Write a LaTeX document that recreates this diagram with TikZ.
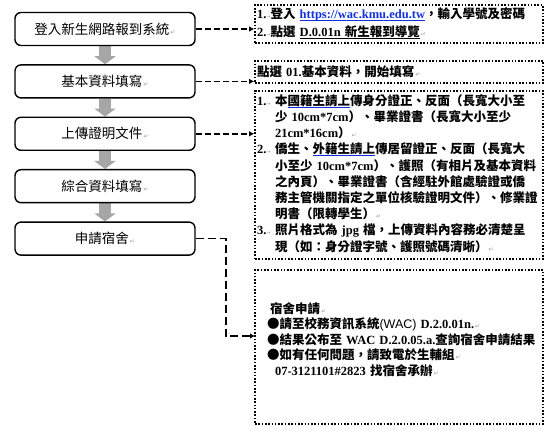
\documentclass[tikz,border=0pt]{standalone}
\usepackage{fontspec}
\setmainfont{Noto Sans CJK TC}
\newfontfamily\enfont{Liberation Serif}
\newfontfamily\sansfont{Liberation Sans}
\newfontfamily\markfont{DejaVu Sans}
\usetikzlibrary{arrows.meta,positioning,backgrounds}
\definecolor{flowGrey}{HTML}{A6A6A6}
\definecolor{linkBlue}{HTML}{1030E0}
\definecolor{markGrey}{HTML}{9A9A9A}
\newcommand\en[1]{{\enfont #1}}
\newcommand\ret{{\markfont\mdseries\fontsize{6}{6}\selectfont\textcolor{markGrey}{\,↵}}}
\newcommand\tabm{{\markfont\mdseries\fontsize{5}{5}\selectfont\textcolor{markGrey}{→}}}
\newcommand\ulc[2]{\setbox0\hbox{#2}\rlap{\textcolor{#1}{\rule[-2.2pt]{\wd0}{0.7pt}}}\box0}
\tikzset{
  flowbox/.style  = {draw, line width=1.4pt, rounded corners=6pt, minimum width=180pt,
                     minimum height=33pt, inner sep=0pt, font=\fontsize{13.5}{16}\selectfont},
  notebox/.style  = {draw, line width=1.6pt, dash pattern=on 1.6pt off 1.7pt,
                     inner xsep=2pt, inner ysep=0pt, text width=284pt, align=left,
                     font=\bfseries\fontsize{12.5}{16.2}\selectfont},
  noteline/.style = {draw, line width=1.7pt, dash pattern=on 6pt off 3pt,
                     -{Latex[length=5pt,width=5.5pt]}},
  flowarrow/.style= {draw=flowGrey, line width=12pt, -{Triangle[width=21pt,length=8pt]}},
}
\begin{document}
\begin{tikzpicture}[x=1pt, y=-1pt]
  \useasboundingbox (0,0) rectangle (553,435);
  % steps on the left
  \node[flowbox] (login) at (105,29) {登入新生網路報到系統\ret};
  \node[flowbox, below=18pt of login] (basic) {基本資料填寫\ret};
  \node[flowbox, below=18pt of basic] (upload) {上傳證明文件\ret};
  \node[flowbox, below=18pt of upload] (summary) {綜合資料填寫\ret};
  \node[flowbox, below=18pt of summary] (apply) {申請宿舍\ret};
  \begin{scope}[on background layer]
    \fill[white] (0,0) rectangle (553,435);
    \foreach \a/\b in {login/basic, basic/upload, upload/summary, summary/apply}
      \draw[flowarrow] (\a.south) -- (\b.north);
  \end{scope}
  % notes on the right
  \node[notebox, minimum height=38pt] (rb1) at (399,24) {%
    \begin{tabular}{@{}l@{}}
      \en{1.}\tabm 登入 \ulc{linkBlue}{\textcolor{linkBlue}{\en{https://wac.kmu.edu.tw}}}，輸入學號及密碼\\[1.8pt]
      \en{2.}\tabm 點選 \ulc{black}{\en{D.0.01n} 新生報到導覽}\ret
    \end{tabular}};
  \node[notebox, minimum height=22pt] (rb2) at (399,72) {點選 \en{01.}基本資料，開始填寫\ret};
  \node[notebox, minimum height=168pt] (rb3) at (399,175) {%
    \begin{tabular}{@{}p{18pt}@{}l@{}}
      \en{1.}\tabm & 本\ulc{linkBlue}{國籍生請上}傳身分證正、反面（長寬大小至\\
      & 少 \en{10cm*7cm}）、畢業證書（長寬大小至少\\
      & \en{21cm*16cm}）\ret\\
      \en{2.}\tabm & 僑生、\ulc{linkBlue}{外籍生請上}傳居留證正、反面（長寬大\\
      & 小至少 \en{10cm*7cm}）、護照（有相片及基本資料\\
      & 之內頁）、畢業證書（含經駐外館處驗證或僑\\
      & 務主管機關指定之單位核驗證明文件）、修業證\\
      & 明書（限轉學生）\ret\\
      \en{3.}\tabm & 照片格式為 \en{jpg} 檔，上傳資料內容務必清楚呈\\
      & 現（如：身分證字號、護照號碼清晰）\ret
    \end{tabular}};
  \node[notebox, minimum height=154pt, font=\bfseries\fontsize{12.5}{15.5}\selectfont] (rb4) at (399,347) {%
    \begin{tabular}{@{\hspace{10pt}}l@{}}
      \hspace*{3pt}宿舍申請\ret\\
      ●請至校務資訊系統{\sansfont\mdseries (WAC)} \en{D.2.0.01n.}\ret\\
      ●結果公布至 \en{WAC D.2.0.05.a.}查詢宿舍申請結果\\
      ●如有任何問題，請致電於生輔組\ret\\
      \hspace*{8pt}\en{07-3121101\#2823} 找宿舍承辦\ret\\[12pt]
    \end{tabular}};
  % connectors
  \draw[noteline] (login.east) -- (login.east -| rb1.west);
  \draw[noteline] (basic.east) -- (basic.east -| rb2.west);
  \draw[noteline] (upload.east) -- (upload.east -| rb3.west);
  \coordinate (dormIn) at (255,336);
  \draw[noteline, dash pattern=on 8pt off 4pt] (apply.east) -- ++(30,0) |- (dormIn);
\end{tikzpicture}
\end{document}
